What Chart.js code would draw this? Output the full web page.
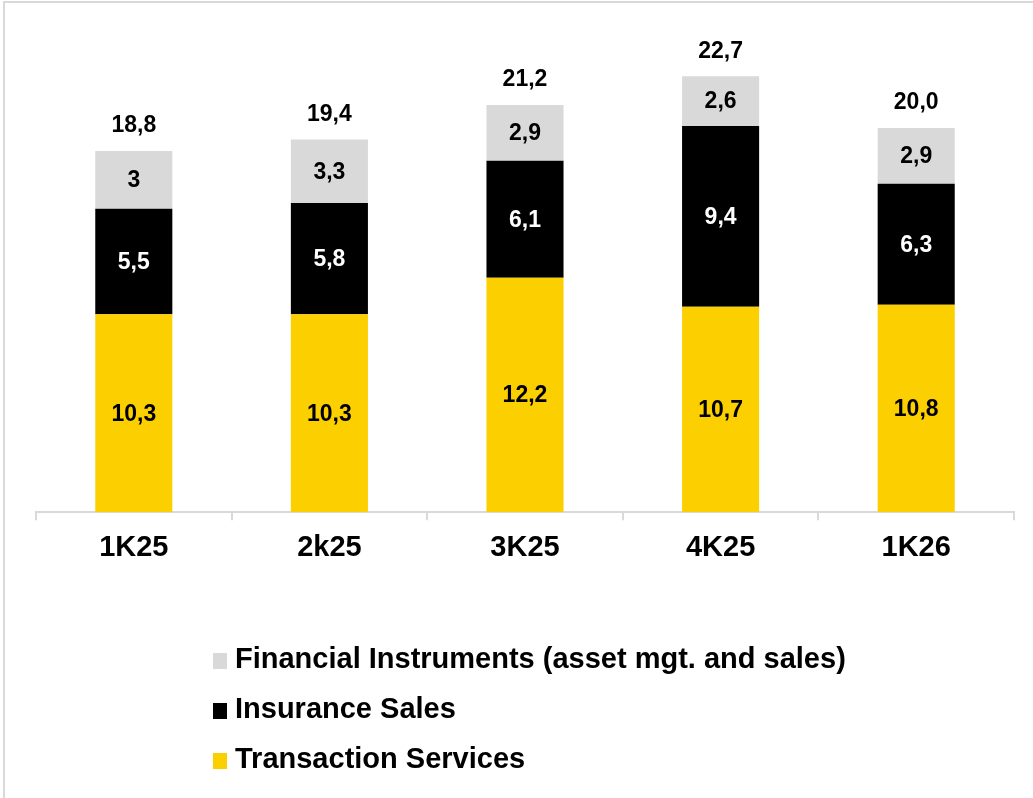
<!DOCTYPE html>
<html>
<head>
<meta charset="utf-8">
<script src="https://cdn.jsdelivr.net/npm/chart.js@4/dist/chart.umd.min.js"></script>
<style>
    body {
        margin: 0;
        background: #ffffff;
    }

    .frame {
        position: absolute;
        left: 3px;
        top: 1px;
        width: 1040px;
        height: 800px;
        border-top: 2px solid #d9d9d9;
        border-left: 2px solid #d9d9d9;
    }

    #revenueChart {
        position: absolute;
        left: 0;
        top: 0;
    }
</style>
</head>
<body>

<div class="frame"></div>
<canvas id="revenueChart" width="1033" height="798"></canvas>

<script>

const quarters = [
    "1K25",
    "2k25",
    "3K25",
    "4K25",
    "1K26"
];

const transactionServices = [
    10.3,
    10.3,
    12.2,
    10.7,
    10.8
];

const insuranceSales = [
    5.5,
    5.8,
    6.1,
    9.4,
    6.3
];

const financialInstruments = [
    3,
    3.3,
    2.9,
    2.6,
    2.9
];

const seriesNames = [
    "Transaction Services",
    "Insurance Sales",
    "Financial Instruments (asset mgt. and sales)"
];

const seriesColors = [
    "#fbcf00",
    "#000000",
    "#d9d9d9"
];

const labelColors = [
    "#000000",
    "#ffffff",
    "#000000"
];

const totals = quarters.map((q, i) =>
    transactionServices[i] + insuranceSales[i] + financialInstruments[i]
);

const FONT = "'Liberation Sans', Arial, sans-serif";

function fmt(v) {
    return String(v).replace(".", ",");
}

// values inside each segment plus the total above every stack
const valueLabels = {
    id: "valueLabels",
    afterDatasetsDraw(chart) {
        const ctx = chart.ctx;
        ctx.save();
        ctx.textAlign = "center";
        ctx.textBaseline = "middle";
        ctx.font = "bold 23px " + FONT;

        chart.data.datasets.forEach((ds, d) => {
            const meta = chart.getDatasetMeta(d);
            meta.data.forEach((bar, i) => {
                const mid = (bar.y + bar.base) / 2;
                ctx.fillStyle = labelColors[d];
                ctx.fillText(fmt(ds.data[i]), bar.x, mid + 1);
            });
        });

        const top = chart.getDatasetMeta(chart.data.datasets.length - 1);
        ctx.fillStyle = "#000000";
        top.data.forEach((bar, i) => {
            ctx.fillText(totals[i].toFixed(1).replace(".", ","), bar.x, bar.y - 25);
        });

        ctx.restore();
    }
};

// legend stacked one entry per row, top series first
const stackedLegend = {
    id: "stackedLegend",
    afterDraw(chart) {
        const ctx = chart.ctx;
        ctx.save();
        ctx.font = "bold 29px " + FONT;
        ctx.textBaseline = "middle";
        ctx.textAlign = "left";

        const order = [2, 1, 0];
        order.forEach((d, row) => {
            const y = 660 + row * 50;
            ctx.fillStyle = seriesColors[d];
            ctx.fillRect(213, y - 7, 14, 16);
            ctx.fillStyle = "#000000";
            ctx.fillText(seriesNames[d], 235, y);
        });

        ctx.restore();
    }
};

const revenueCtx =
document.getElementById(
"revenueChart"
);

new Chart(revenueCtx, {

    type: "bar",

    data: {

        labels: quarters,

        datasets: [
            {
                label: seriesNames[0],
                data: transactionServices,
                backgroundColor: seriesColors[0]
            },
            {
                label: seriesNames[1],
                data: insuranceSales,
                backgroundColor: seriesColors[1]
            },
            {
                label: seriesNames[2],
                data: financialInstruments,
                backgroundColor: seriesColors[2]
            }
        ]

    },

    options: {

        responsive: false,
        animation: false,

        layout: {
            padding: {
                left: 36,
                right: 19,
                top: 32,
                bottom: 223
            }
        },

        datasets: {
            bar: {
                barPercentage: 0.394,
                categoryPercentage: 1
            }
        },

        plugins: {
            legend: { display: false },
            tooltip: { enabled: false }
        },

        scales: {
            x: {
                stacked: true,
                grid: {
                    display: true,
                    drawOnChartArea: false,
                    drawTicks: true,
                    tickLength: 8,
                    color: "#d9d9d9",
                    lineWidth: 2
                },
                border: {
                    color: "#d9d9d9",
                    width: 2
                },
                ticks: {
                    color: "#000000",
                    padding: 10,
                    font: {
                        family: FONT,
                        size: 29,
                        weight: "bold"
                    }
                }
            },
            y: {
                stacked: true,
                display: false,
                min: 0,
                max: 25
            }
        }

    },

    plugins: [valueLabels, stackedLegend]

});

</script>
</body>
</html>
